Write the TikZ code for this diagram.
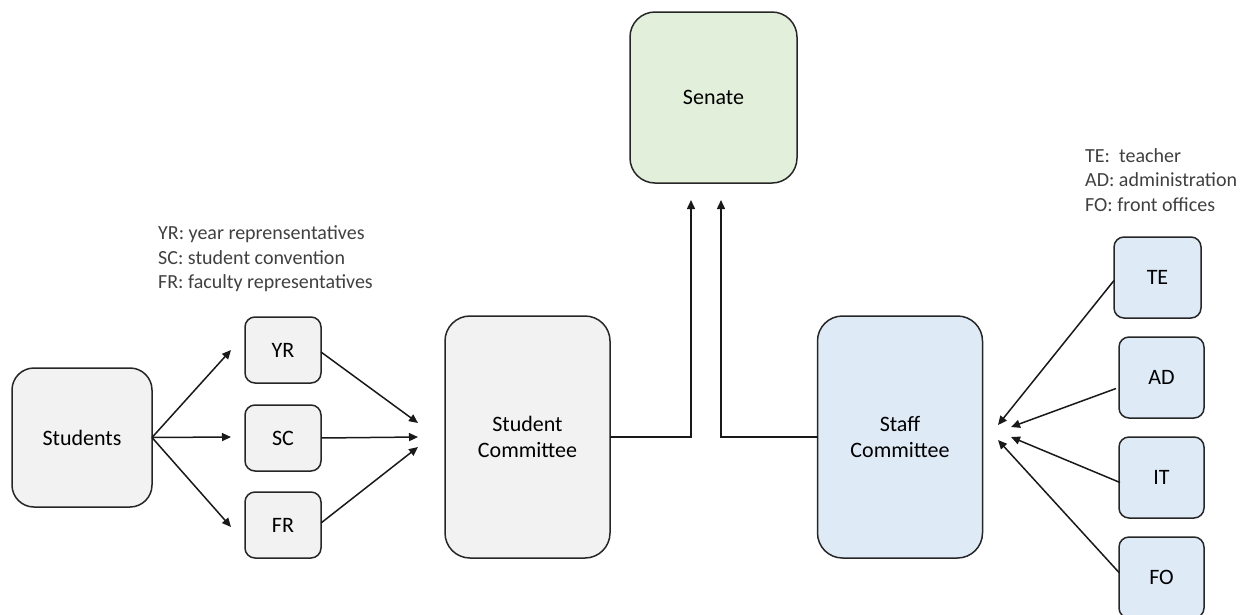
\documentclass[tikz,border=0pt]{standalone}
\usepackage{fontspec}
\setmainfont{Carlito}
\usetikzlibrary{arrows.meta}
\definecolor{boxgray}{HTML}{F2F2F2}
\definecolor{boxgreen}{HTML}{E2EFDA}
\definecolor{boxblue}{HTML}{DEEBF7}
\begin{document}
\begin{tikzpicture}[x=1pt,y=-1pt,
  box/.style={draw=black!85, line width=1.5pt, inner sep=0pt, outer sep=0pt, align=center,
    font=\fontsize{22}{26}\selectfont},
  small/.style={box, rounded corners=10pt, minimum width=76pt, minimum height=66pt},
  big/.style={box, rounded corners=25pt, minimum width=165pt, minimum height=242pt},
  conn/.style={line width=1.5pt, draw=black!90, -{Triangle[length=9pt,width=8pt]}},
  note/.style={anchor=west, inner sep=0pt, align=left, text=black!75,
    font=\fontsize{20}{24.5}\selectfont}]
\useasboundingbox (0,0) rectangle (1256,614);

% left side: students and their representatives
\node[box, rounded corners=22pt, minimum width=140pt, minimum height=139pt, fill=boxgray] (students) at (82,437.5) {Students};
\node[small, fill=boxgray] (yr) at (283,350) {YR};
\node[small, fill=boxgray] (sc) at (283,438) {SC};
\node[small, fill=boxgray] (fr) at (283,525) {FR};
\node[big, fill=boxgray] (stc) at (527.5,437) {Student\\Committee};

% top: senate
\node[box, rounded corners=25pt, minimum width=167pt, minimum height=171pt, fill=boxgreen] (senate) at (713.5,97.5) {Senate};

% right side: staff and its groups
\node[big, fill=boxblue] (stf) at (900,437) {Staff\\Committee};
\node[small, minimum width=87pt, minimum height=81pt, fill=boxblue] (te) at (1157.5,277.5) {TE};
\node[small, minimum width=85pt, minimum height=81pt, fill=boxblue] (ad) at (1161.5,377.5) {AD};
\node[small, minimum width=85pt, minimum height=81pt, fill=boxblue] (it) at (1161.5,477.5) {IT};
\node[small, minimum width=85pt, minimum height=81pt, fill=boxblue] (fo) at (1161.5,577.5) {FO};

% abbreviation notes
\node[note] (lnote) at (158,259) {YR: year reprensentatives\\SC: student convention\\FR: faculty representatives};
\node[note] (rnote) at (1085,180) {TE:\ \ teacher\\AD: administration\\FO: front offices};

% free arrow ends
\coordinate (tyr) at (231,350);
\coordinate (tsc) at (231,437);
\coordinate (tfr) at (231,527);
\coordinate (jyr) at (418,423);
\coordinate (jsc) at (418,437);
\coordinate (jfr) at (418,447);
\coordinate (sl) at (691,200);
\coordinate (sr) at (721,200);
\coordinate (jte) at (998,425);
\coordinate (jad) at (1011,427);
\coordinate (jit) at (1011,437);
\coordinate (jfo) at (998,440);

\draw[conn] (students.east) -- (tyr);
\draw[conn] (students.east) -- (tsc);
\draw[conn] (students.east) -- (tfr);
\draw[conn] (yr.east) ++(0,2) -- (jyr);
\draw[conn] (sc.east) -- (jsc);
\draw[conn] (fr.east) ++(0,-2) -- (jfr);
\draw[conn] (stc.east) -| (sl);
\draw[conn] (stf.west) -| (sr);
\draw[conn] (te.west) ++(0,3) -- (jte);
\draw[conn] (ad.west) ++(-3,11) -- (jad);
\draw[conn] (it.west) ++(1,5) -- (jit);
\draw[conn] (fo.west) ++(0,-5) -- (jfo);
\end{tikzpicture}
\end{document}
